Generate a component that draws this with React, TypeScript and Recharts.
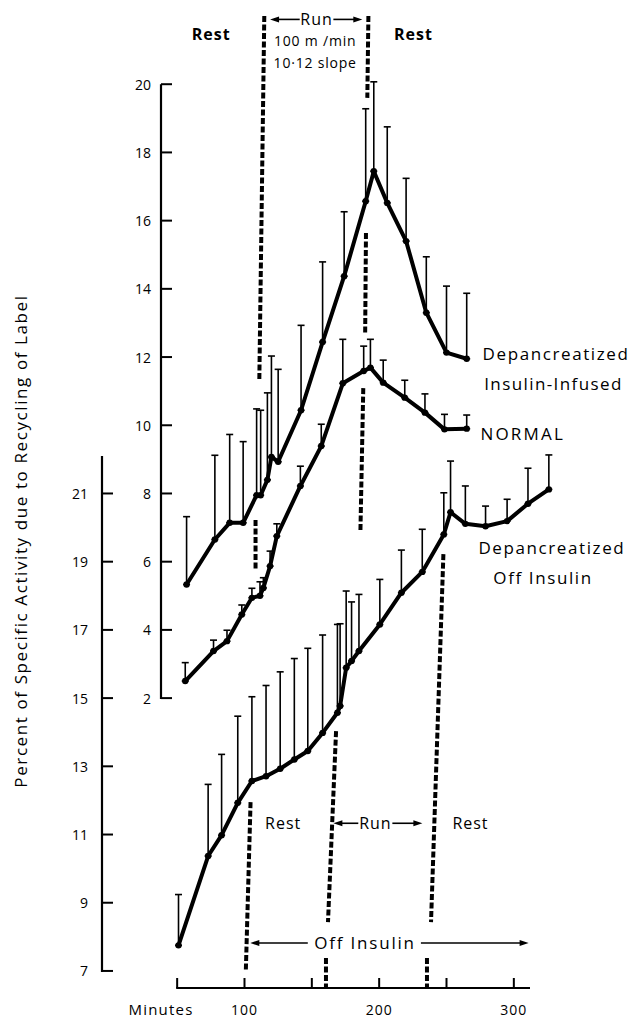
import React from 'react';
import {
  ComposedChart,
  Line,
  XAxis,
  YAxis,
  ErrorBar,
  ReferenceLine,
  ReferenceDot,
} from 'recharts';

const FONT = '"Open Sans", "DejaVu Sans", sans-serif';

// Depancreatized, insulin-infused (inner scale, 2-20)
const infusedMinutes = [57, 78, 89, 99, 109, 112, 117, 120, 125, 142, 158, 174, 190, 196, 206, 220, 235, 250, 265];
const infusedValues = [5.33, 6.65, 7.14, 7.14, 7.95, 7.95, 8.4, 9.07, 8.93, 10.44, 12.44, 14.37, 16.57, 17.45, 16.52, 15.4, 13.3, 12.13, 11.95];
const infusedUpper = [7.32, 9.12, 9.73, 9.52, 10.48, 10.44, 10.95, 12.03, 11.64, 12.93, 14.79, 16.26, 19.28, 20.07, 18.75, 17.24, 14.94, 14.08, 13.87];

// Normal (inner scale)
const normalMinutes = [56, 77, 87, 98, 105.5, 111.5, 114, 119, 124, 141.5, 157, 173, 188.5, 193.5, 203, 219, 234, 248.5, 265];
const normalValues = [2.5, 3.38, 3.67, 4.45, 4.94, 5.0, 5.23, 5.87, 6.75, 8.22, 9.39, 11.23, 11.59, 11.69, 11.25, 10.81, 10.37, 9.88, 9.9];
const normalUpper = [3.04, 3.7, 3.99, 4.73, 5.22, 5.41, 5.53, 6.31, 7.11, 8.8, 10.03, 12.52, 12.32, 12.52, 11.91, 11.32, 10.92, 10.32, 10.3];

// Depancreatized, off insulin (outer scale, 7-21)
const offMinutes = [51, 73, 83, 95, 105.5, 116, 126.5, 137, 147, 158, 169, 171, 175.5, 179.5, 185, 200.5, 216.5, 232, 248, 253, 264, 279, 295, 310.5, 326];
const offValues = [7.75, 10.37, 10.98, 11.93, 12.57, 12.71, 12.93, 13.2, 13.45, 13.98, 14.57, 14.77, 15.89, 16.09, 16.38, 17.16, 18.09, 18.7, 19.8, 20.45, 20.11, 20.04, 20.19, 20.7, 21.12];
const offUpper = [9.24, 12.47, 13.35, 14.47, 15.04, 15.37, 15.77, 16.16, 16.46, 16.85, 17.16, 17.18, 18.14, 17.82, 18.04, 18.48, 19.34, 19.95, 21.02, 21.95, 21.22, 20.63, 20.83, 21.74, 22.13];

const xTicks = [50, 100, 150, 200, 250, 300];
const xLabeled = [100, 200, 300];
const innerTicks = [2, 4, 6, 8, 10, 12, 14, 16, 18, 20];
const outerTicks = [7, 9, 11, 13, 15, 17, 19, 21];

const X_DOMAIN: [number, number] = [38, 387];
const IN_DOMAIN: [number, number] = [-6.5, 22];
const OUT_SHIFT = 13;
const OUT_DOMAIN: [number, number] = [IN_DOMAIN[0] + OUT_SHIFT, IN_DOMAIN[1] + OUT_SHIFT];
const AXIS_START = 50;
const AXIS_END = 312;
const OUTER_TOP = 22.1;

// phase boundaries: [minute1, value1, minute2, value2]
const innerPhaseLines = [
  [114.7, 22, 111, 11.3],
  [108.2, 7.22, 108.2, 5.78],
  [192, 22, 191.2, 19.6],
  [190.2, 15.64, 189.6, 12.7],
  [188.2, 11.09, 186.1, 6.93],
];
const outerPhaseLines = [
  [104.5, 11.95, 101, 7.02],
  [168, 14.03, 162, 8.43],
  [160.5, 7.38, 160.5, 6.5],
  [247.7, 19.22, 238.5, 8.43],
  [235.5, 7.38, 235.5, 6.5],
];

// arrows: [fromMinute, toMinute, value] head at toMinute
const innerArrows = [
  [141, 119, 21.9],
  [166, 187.5, 21.9],
];
const outerArrows = [
  [184.5, 166, 11.33],
  [209.8, 232.1, 11.33],
  [147, 104.3, 7.82],
  [231, 311, 7.82],
];

const innerNotes = [
  { t: 75.3, v: 21.47, text: 'Rest', anchor: 'middle', bold: true, size: 16, ls: 1 },
  { t: 225.4, v: 21.47, text: 'Rest', anchor: 'middle', bold: true, size: 16, ls: 1 },
  { t: 153.5, v: 21.9, text: 'Run', anchor: 'middle', bold: false, size: 16, ls: 1 },
  { t: 152.5, v: 21.28, text: '100 m /min', anchor: 'middle', bold: false, size: 14, ls: 0.8 },
  { t: 152.5, v: 20.65, text: '10·12 slope', anchor: 'middle', bold: false, size: 14, ls: 0.8 },
  { t: 276.8, v: 12.09, text: 'Depancreatized', anchor: 'start', bold: false, size: 17, ls: 1.6 },
  { t: 278, v: 11.21, text: 'Insulin-Infused', anchor: 'start', bold: false, size: 17, ls: 1.4 },
  { t: 275.2, v: 9.77, text: 'NORMAL', anchor: 'start', bold: false, size: 17, ls: 2.2 },
];
const outerNotes = [
  { t: 273.7, v: 19.43, text: 'Depancreatized', anchor: 'start', bold: false, size: 17, ls: 1.6 },
  { t: 284.8, v: 18.55, text: 'Off Insulin', anchor: 'start', bold: false, size: 17, ls: 1.6 },
  { t: 128.7, v: 11.33, text: 'Rest', anchor: 'middle', bold: false, size: 16, ls: 1 },
  { t: 197.2, v: 11.33, text: 'Run', anchor: 'middle', bold: false, size: 16, ls: 1 },
  { t: 267.8, v: 11.33, text: 'Rest', anchor: 'middle', bold: false, size: 16, ls: 1 },
  { t: 189.5, v: 7.82, text: 'Off Insulin', anchor: 'middle', bold: false, size: 17, ls: 1.8 },
];

const build = (m: number[], v: number[], u: number[]) =>
  m.map((t, i) => ({ t, v: v[i], err: [0, +(u[i] - v[i]).toFixed(2)] }));

const infusedData = build(infusedMinutes, infusedValues, infusedUpper);
const normalData = build(normalMinutes, normalValues, normalUpper);
const offData = build(offMinutes, offValues, offUpper);

const WIDTH = 631;
const HEIGHT = 1013;
const MARGIN = { top: 8, right: 8, bottom: 3, left: 0 };
const X_AXIS_H = 30;
const IN_AXIS_W = 59;
const OUT_AXIS_W = 94;
const PLOT_H = HEIGHT - MARGIN.top - MARGIN.bottom - X_AXIS_H;
const PLOT_W = WIDTH - MARGIN.left - MARGIN.right - IN_AXIS_W - OUT_AXIS_W;
const PX_PER_UNIT = PLOT_H / (IN_DOMAIN[1] - IN_DOMAIN[0]);
const PX_PER_MIN = PLOT_W / (X_DOMAIN[1] - X_DOMAIN[0]);

const innerDash = `0 ${(IN_DOMAIN[1] - 20) * PX_PER_UNIT} ${18 * PX_PER_UNIT + 1} 3000`;
const outerDash = `0 ${(OUT_DOMAIN[1] - OUTER_TOP) * PX_PER_UNIT} ${(OUTER_TOP - 7) * PX_PER_UNIT + 1} 3000`;
const xDash = `0 ${(AXIS_START - X_DOMAIN[0]) * PX_PER_MIN - 1} ${(AXIS_END - AXIS_START) * PX_PER_MIN + 1} 3000`;

const YTick = (gap: number) => (props: any) => {
  const { x, y, payload } = props;
  return (
    <g>
      <line x1={x} y1={y} x2={x + 11} y2={y} stroke="#000" strokeWidth={2} />
      <text x={x - gap} y={y} textAnchor="end" dominantBaseline="central" fontSize={14} fontFamily={FONT} fill="#000">
        {payload.value}
      </text>
    </g>
  );
};

const XTick = (props: any) => {
  const { x, y, payload } = props;
  return (
    <g>
      <line x1={x} y1={y} x2={x} y2={y - 10} stroke="#000" strokeWidth={2} />
      {xLabeled.includes(payload.value) && (
        <text x={x} y={y + 21} textAnchor="middle" dominantBaseline="central" fontSize={14} letterSpacing={1} fontFamily={FONT} fill="#000">
          {payload.value}
        </text>
      )}
    </g>
  );
};

const arrowShape = (p: any) => {
  const { x1, y1, x2, y2 } = p;
  const dir = x2 > x1 ? 1 : -1;
  return (
    <g>
      <line x1={x1} y1={y1} x2={x2 - dir * 4} y2={y2} stroke="#000" strokeWidth={1.6} />
      <polygon points={`${x2},${y2} ${x2 - dir * 9},${y2 - 3} ${x2 - dir * 9},${y2 + 3}`} fill="#000" />
    </g>
  );
};

const dashShape = (p: any) => (
  <line x1={p.x1} y1={p.y1} x2={p.x2} y2={p.y2} stroke="#000" strokeWidth={4} strokeDasharray="6 2.5" />
);

const noteShape = (n: any) => (p: any) => (
  <text
    x={p.cx}
    y={p.cy}
    textAnchor={n.anchor}
    dominantBaseline="central"
    fontSize={n.size}
    fontWeight={n.bold ? 700 : 400}
    letterSpacing={n.ls}
    fontFamily={FONT}
    fill="#000"
  >
    {n.text}
  </text>
);

const dotStyle = { r: 3.2, fill: '#000', stroke: 'none' };

export default function App() {
  return (
    <ComposedChart width={WIDTH} height={HEIGHT} margin={MARGIN}>
      <XAxis
        type="number"
        dataKey="t"
        domain={X_DOMAIN}
        ticks={xTicks}
        axisLine={{ stroke: '#000', strokeWidth: 2.2, strokeDasharray: xDash }}
        tickLine={false}
        tickSize={0}
        tickMargin={0}
        height={X_AXIS_H}
        tick={XTick}
        interval={0}
        label={{
          content: (p: any) => {
            const vb = p.viewBox || { x: 153, y: 980 };
            return (
              <text x={vb.x} y={vb.y + 21} textAnchor="middle" dominantBaseline="central" fontSize={15} fontFamily={FONT} letterSpacing={1.2} fill="#000">
                Minutes
              </text>
            );
          },
        }}
      />
      <YAxis
        yAxisId="in"
        type="number"
        domain={IN_DOMAIN}
        ticks={innerTicks}
        width={IN_AXIS_W}
        tickLine={false}
        tickSize={0}
        tickMargin={0}
        interval={0}
        axisLine={{ stroke: '#000', strokeWidth: 2.2, strokeDasharray: innerDash }}
        tick={YTick(10)}
      />
      <YAxis
        yAxisId="out"
        type="number"
        domain={OUT_DOMAIN}
        ticks={outerTicks}
        width={OUT_AXIS_W}
        tickLine={false}
        tickSize={0}
        tickMargin={0}
        interval={0}
        axisLine={{ stroke: '#000', strokeWidth: 2.2, strokeDasharray: outerDash }}
        tick={YTick(14)}
        label={{
          content: (p: any) => {
            const vb = p.viewBox || { x: 0, y: 8 };
            const cx = vb.x + 12;
            const cy = vb.y + 525;
            return (
              <text x={cx} y={cy} transform={`rotate(-90 ${cx} ${cy})`} textAnchor="middle" dominantBaseline="central" fontSize={17} letterSpacing={1.6} fontFamily={FONT} fill="#000">
                Percent of Specific Activity due to Recycling of Label
              </text>
            );
          },
        }}
      />

      {innerPhaseLines.map((s, i) => (
        <ReferenceLine key={`ip${i}`} yAxisId="in" ifOverflow="visible" segment={[{ x: s[0], y: s[1] }, { x: s[2], y: s[3] }]} shape={dashShape} />
      ))}
      {outerPhaseLines.map((s, i) => (
        <ReferenceLine key={`op${i}`} yAxisId="out" ifOverflow="visible" segment={[{ x: s[0], y: s[1] }, { x: s[2], y: s[3] }]} shape={dashShape} />
      ))}
      {innerArrows.map((a, i) => (
        <ReferenceLine key={`ia${i}`} yAxisId="in" ifOverflow="visible" segment={[{ x: a[0], y: a[2] }, { x: a[1], y: a[2] }]} shape={arrowShape} />
      ))}
      {outerArrows.map((a, i) => (
        <ReferenceLine key={`oa${i}`} yAxisId="out" ifOverflow="visible" segment={[{ x: a[0], y: a[2] }, { x: a[1], y: a[2] }]} shape={arrowShape} />
      ))}

      <Line yAxisId="in" data={infusedData} dataKey="v" stroke="#000" strokeWidth={4} strokeLinejoin="round" dot={dotStyle} isAnimationActive={false}>
        <ErrorBar dataKey="err" direction="y" width={3.5} stroke="#000" strokeWidth={1.6} isAnimationActive={false} />
      </Line>
      <Line yAxisId="in" data={normalData} dataKey="v" stroke="#000" strokeWidth={4} strokeLinejoin="round" dot={dotStyle} isAnimationActive={false}>
        <ErrorBar dataKey="err" direction="y" width={3.5} stroke="#000" strokeWidth={1.6} isAnimationActive={false} />
      </Line>
      <Line yAxisId="out" data={offData} dataKey="v" stroke="#000" strokeWidth={4} strokeLinejoin="round" dot={dotStyle} isAnimationActive={false}>
        <ErrorBar dataKey="err" direction="y" width={3.5} stroke="#000" strokeWidth={1.6} isAnimationActive={false} />
      </Line>

      {innerNotes.map((n, i) => (
        <ReferenceDot key={`in${i}`} yAxisId="in" x={n.t} y={n.v} r={0} ifOverflow="visible" shape={noteShape(n)} />
      ))}
      {outerNotes.map((n, i) => (
        <ReferenceDot key={`on${i}`} yAxisId="out" x={n.t} y={n.v} r={0} ifOverflow="visible" shape={noteShape(n)} />
      ))}
    </ComposedChart>
  );
}
